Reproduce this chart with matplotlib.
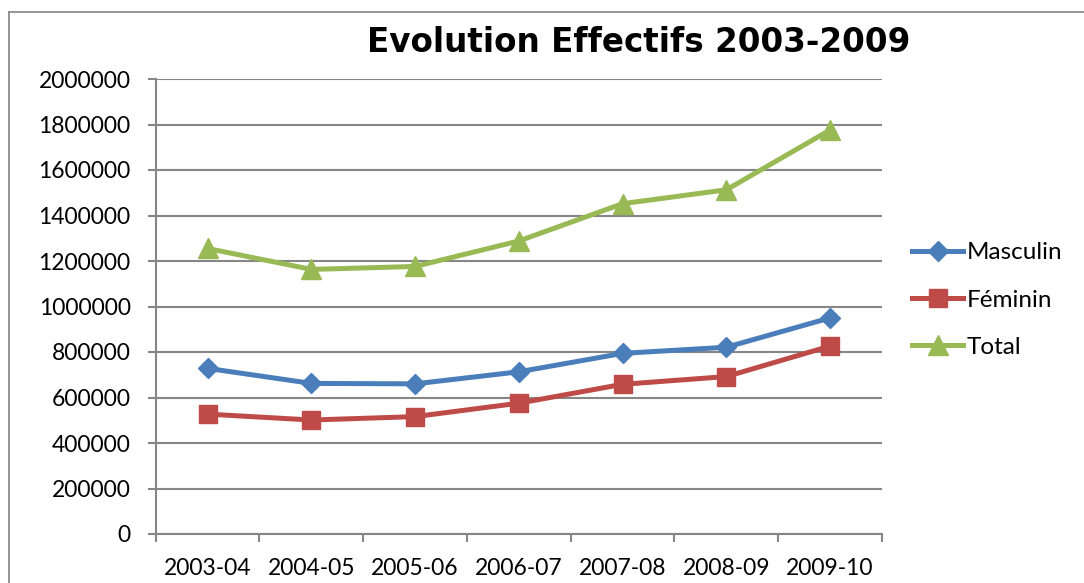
import matplotlib
matplotlib.use("Agg")
import matplotlib.pyplot as plt
from matplotlib.lines import Line2D

categories = ["2003-04", "2004-05", "2005-06", "2006-07", "2007-08", "2008-09", "2009-10"]
masculin = [728000, 662000, 660000, 713000, 794000, 821000, 950000]
feminin = [527000, 501000, 516000, 575000, 658000, 692000, 826000]
total = [1255000, 1163000, 1176000, 1288000, 1452000, 1513000, 1776000]
yticks = [0, 200000, 400000, 600000, 800000, 1000000, 1200000, 1400000, 1600000, 1800000, 2000000]
title = "Evolution Effectifs 2003-2009"

W, H = 1084, 583
fig = plt.figure(figsize=(W / 100, H / 100), dpi=100)
fig.patch.set_facecolor("white")

left, right, top, bottom = 155.7, 882, 79, 534
ax = fig.add_axes([left / W, (H - bottom) / H, (right - left) / W, (bottom - top) / H])

grid_c = "#868686"
x = list(range(len(categories)))
ax.plot(x, masculin, color="#4A7EBB", lw=3.6, marker="D", ms=10.5, mec="#4A7EBB", label="Masculin", zorder=3)
ax.plot(x, feminin, color="#BE4B48", lw=3.6, marker="s", ms=13, mec="#BE4B48", label="Féminin", zorder=3)
ax.plot(x, total, color="#98B954", lw=3.6, marker="^", ms=14, mec="#98B954", label="Total", zorder=3)

ax.set_xlim(-0.5, len(categories) - 0.5)
ax.set_ylim(0, 2000000)
ax.set_yticks(yticks)
ax.set_yticklabels([str(v) for v in yticks])
ax.set_xticks([i - 0.5 for i in range(len(categories) + 1)])
ax.set_xticklabels([])
ax.set_xticks(x, minor=True)
ax.set_xticklabels(categories, minor=True)

ax.grid(axis="y", color=grid_c, lw=1.5)
ax.set_axisbelow(True)
for s in ["top", "right"]:
    ax.spines[s].set_visible(False)
for s in ["left", "bottom"]:
    ax.spines[s].set_color(grid_c)
    ax.spines[s].set_linewidth(1.5)

font = "Lato"
ax.tick_params(axis="y", which="major", length=6, width=1.5, color=grid_c, pad=12,
               labelsize=16.5, labelcolor="black")
ax.tick_params(axis="x", which="major", length=6, width=1.5, color=grid_c)
ax.tick_params(axis="x", which="minor", length=0, pad=17, labelsize=16.5, labelcolor="black")
for lab in ax.get_yticklabels() + ax.get_xticklabels(minor=True):
    lab.set_fontfamily(font)

fig.text(639 / W, 1 - 43 / H, title, ha="center", va="center", fontsize=23.5,
         fontweight="bold", family="DejaVu Sans")

leg = ax.legend(loc="center left", frameon=False,
                prop={"family": font, "size": 17.5}, handlelength=2.1, handletextpad=0.15,
                labelspacing=1.08, borderaxespad=0, borderpad=0)
leg.set_bbox_to_anchor((912 / W, 1 - 300 / H), transform=fig.transFigure)

border_c = "#8c8c8c"
fig.add_artist(Line2D([8.5 / W, 8.5 / W], [0, 1 - 12 / H], color=border_c, lw=1.3, transform=fig.transFigure))
fig.add_artist(Line2D([8.5 / W, 1.0], [1 - 12 / H, 1 - 12 / H], color=border_c, lw=1.3, transform=fig.transFigure))

fig.savefig("out.png", dpi=100, facecolor="white")
